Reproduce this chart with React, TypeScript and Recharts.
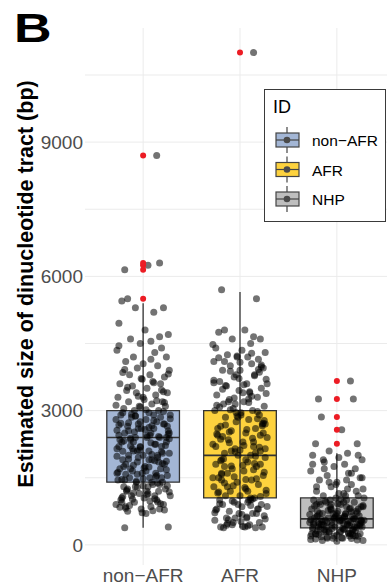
import {
  ComposedChart,
  Scatter,
  XAxis,
  YAxis,
  CartesianGrid,
  ReferenceArea,
  ReferenceLine,
  Legend,
} from "recharts";

const FONT = '"Liberation Sans", Arial, Helvetica, sans-serif';

// groups and their box statistics (bp)
const groups = ["non−AFR", "AFR", "NHP"];
const boxFill = ["#a3b6d5", "#fdd23e", "#bebebe"];
const q1 = [1400, 1050, 380];
const median = [2400, 2000, 580];
const q3 = [3000, 3000, 1050];
const whiskerLow = [380, 380, 70];
const whiskerHigh = [5400, 5650, 2050];

// outliers flagged by the boxplot (drawn on the centre line in red)
const nonAfrOutliers = [5500, 6150, 6250, 6300, 8700];
const afrOutliers = [11000];
const nhpOutliers = [2260, 2570, 2860, 3260, 3660];

// horizontal jitter, in category units
const jitter = [
  0.14, -0.19, 0.17, -0.16, 0.05, -0.22, 0.21, -0.08, 0.11, -0.25, 0.02, 0.26, -0.13, 0.08, -0.03, 0.19,
  -0.27, 0.12, -0.1, 0.24, -0.18, 0.0, 0.15, -0.06, 0.27, -0.21, 0.07, -0.14, 0.22, -0.01, 0.1, -0.24,
  0.18, -0.11, 0.04, -0.17, 0.25, -0.07, 0.13, -0.26, 0.01, 0.2, -0.15, 0.09, -0.04, 0.23, -0.2, 0.16,
  -0.09, 0.06, -0.23, 0.28, -0.12, 0.03, -0.28, 0.14, -0.05, 0.21, -0.16, 0.11, -0.02, 0.26, -0.19, 0.08,
  -0.25, 0.17, -0.08, 0.04, -0.13, 0.24, -0.22, 0.12, -0.03, 0.19, -0.27, 0.06, -0.1, 0.27, -0.15, 0.0,
  0.15, -0.21, 0.09, -0.06, 0.22, -0.18, 0.02, -0.24, 0.18, -0.11, 0.13, -0.01, 0.25, -0.14, 0.07, -0.26,
  0.2, -0.07, 0.1, -0.2, 0.05, 0.23, -0.17, 0.16, -0.04, 0.28, -0.12, 0.01, -0.23, 0.14, -0.09, 0.21,
  -0.28, 0.08, -0.02, 0.17, -0.16, 0.03, 0.26, -0.19, 0.11, -0.05, 0.24, -0.25, 0.06, -0.13, 0.19, -0.08,
  0.12, -0.22, 0.0, 0.22, -0.1, 0.15, -0.27, 0.04, -0.18, 0.27, -0.06, 0.09, -0.21, 0.18, -0.03, 0.25,
  -0.15, 0.07, -0.24, 0.13, -0.11, 0.2, -0.05, 0.16, -0.2, 0.03,
];

// estimated tract sizes (bp), one entry per sample
const nonAfrTract = [
  8700, 6150, 6300, 5500, 6250, 5450, 5300, 5300, 5200, 4950, 4800, 4700, 4600, 4550, 4500, 4400,
  4350, 4300, 4200, 4200, 4100, 4050, 4000, 3950, 3900, 3850, 3800, 3800, 3750, 3700, 3650, 3600,
  3600, 3550, 3500, 3450, 3400, 3400, 3350, 3300, 3250, 3200, 3200, 3150, 3100, 3100, 3050, 3000,
  3000, 2950, 2900, 2900, 2850, 2800, 2800, 2750, 2700, 2700, 2650, 2600, 2600, 2550, 2500, 2500,
  2450, 2400, 2400, 2400, 2350, 2300, 2300, 2250, 2200, 2200, 2150, 2100, 2100, 2050, 2000, 2000,
  1950, 1900, 1900, 1850, 1800, 1800, 1750, 1700, 1700, 1650, 1600, 1600, 1550, 1500, 1500, 1450,
  1400, 1400, 1350, 1300, 1300, 1250, 1200, 1200, 1150, 1100, 1100, 1050, 1000, 1000, 950, 900,
  900, 850, 800, 800, 750, 700, 400, 380, 2900, 2600, 2400, 2200, 1900, 1700, 1500, 1300,
  1100, 950, 3300, 2700, 2300, 2000, 1600, 1200, 850, 2500, 2100, 1400, 2950, 2850, 2750, 2650,
  2550, 2450, 2350, 2250, 2150, 2050, 1950, 1850, 1750, 1650, 1550, 1450, 1350, 1250, 1150, 1050,
  2980, 2880, 2780, 2680, 2580, 2480, 2380, 2280, 2180, 2080, 1980, 1880, 1780, 1680, 1580, 1480,
  1380, 1280, 1180, 1080, 980, 880, 780, 720, 760, 840, 920, 1020, 1120, 1220, 1320, 1420,
  1520, 1620, 1720, 1820, 1920, 2020, 2120, 2220, 2320, 2420, 2520, 2620, 2720, 2820, 2920, 3020,
  3120, 3220, 3320, 3420, 3520, 3620, 3720, 3820, 3920, 4150, 4450, 4650, 2880, 2440, 2210, 1870,
  1460, 1030, 3080, 3460, 2560, 1740, 1160, 2370, 2730, 1320, 960, 2090, 2660, 1580, 3180, 820,
];

const afrTract = [
  11000, 5700, 5500, 4800, 4800, 4750, 4600, 4600, 4500, 4400, 4350, 4300, 4250, 4200, 4200, 4150,
  4100, 4050, 4000, 3950, 3900, 3900, 3800, 3750, 3700, 3650, 3600, 3550, 3500, 3450, 3400, 3350,
  3300, 3250, 3200, 3150, 3100, 3050, 3000, 3000, 2950, 2900, 2850, 2800, 2750, 2700, 2650, 2600,
  2550, 2500, 2450, 2400, 2350, 2300, 2250, 2200, 2150, 2100, 2050, 2000, 2000, 1950, 1900, 1850,
  1800, 1750, 1700, 1650, 1600, 1550, 1500, 1450, 1400, 1350, 1300, 1250, 1200, 1150, 1100, 1100,
  1050, 1000, 1000, 950, 900, 900, 850, 800, 800, 750, 700, 700, 650, 600, 600, 550,
  500, 500, 450, 400, 400, 400, 380, 380, 3800, 3600, 3200, 2900, 2600, 2300, 2100, 1800,
  1500, 1200, 900, 700, 4100, 3400, 2700, 1600, 1000, 600, 2500, 2200, 1900, 1300, 800, 450,
  4280, 4180, 4080, 3980, 3880, 3780, 3680, 3580, 3480, 3380, 3280, 3180, 3080, 2980, 2880, 2780,
  2680, 2580, 2480, 2380, 2280, 2180, 2080, 1980, 1880, 1780, 1680, 1580, 1480, 1380, 1280, 1180,
  1080, 980, 880, 780, 680, 580, 480, 420, 4220, 3920, 3620, 3320, 3020, 2720, 2420, 2120,
  1820, 1520, 1220, 920, 620, 440, 4020, 3720, 3420, 3120, 2820, 2520, 2220, 1920, 1620, 1320,
  1020, 720, 520, 3860, 3560, 3260, 2960, 2660, 2360, 2060, 1760, 1460, 1160, 860, 560, 410,
  4480, 4650, 3150, 2450, 1750, 1050, 2850, 2150, 1450, 950,
];

const nhpTract = [
  3660, 3260, 3260, 2860, 2570, 2260, 2260, 2100, 2050, 2000, 1950, 1900, 1850, 1800, 1750, 1700,
  1650, 1600, 1550, 1500, 1450, 1400, 1350, 1300, 1250, 1200, 1150, 1100, 1100, 1050, 1000, 1000,
  950, 950, 900, 900, 850, 850, 800, 800, 750, 750, 700, 700, 700, 650, 650, 650,
  600, 600, 600, 550, 550, 550, 500, 500, 500, 450, 450, 450, 400, 400, 400, 350,
  350, 350, 300, 300, 300, 250, 250, 250, 200, 200, 200, 150, 150, 100, 100, 80,
  1600, 1300, 1100, 900, 800, 700, 600, 500, 400, 300, 200, 650, 550, 450, 350, 250,
  1200, 1000, 850, 750, 550, 450, 350, 250, 150, 1050, 980, 920, 870, 820, 770, 720,
  680, 640, 610, 580, 560, 530, 510, 490, 470, 440, 420, 390, 370, 340, 320, 290,
  270, 240, 220, 190, 170, 140, 120, 1020, 960, 880, 780, 690, 630, 590, 570, 540,
  520, 480, 460, 430, 410, 380, 360, 330, 310, 280, 260, 230, 210, 180, 160, 130,
  110, 1400, 1250, 1800, 1150, 1500, 1700, 620, 600, 580, 560, 540, 500, 480, 460, 700,
  740, 800, 850, 900, 950, 1900, 2000, 1350, 1450,
];

const yTicks = [0, 3000, 6000, 9000];
const yGrid = [0, 1500, 3000, 4500, 6000, 7500, 9000, 10500];

const tractByGroup = [nonAfrTract, afrTract, nhpTract];
const outliersByGroup = [nonAfrOutliers, afrOutliers, nhpOutliers];

const samplePoints = tractByGroup.flatMap((vals, g) =>
  vals.map((v, i) => ({ x: g + 1 + jitter[i % jitter.length], y: v }))
);
const outlierPoints = outliersByGroup.flatMap((vals, g) => vals.map((v) => ({ x: g + 1, y: v })));

const HALF_BOX = 0.375;
const EDGE = "#333333";

const SampleDot = (props: any) => (
  <circle cx={props.cx} cy={props.cy} r={3.5} fill="#000" fillOpacity={0.55} />
);
const OutlierDot = (props: any) => <circle cx={props.cx} cy={props.cy} r={3} fill="#ec1c24" />;

const YTitle = () => (
  <text
    x={33}
    y={284}
    transform="rotate(-90 33 284)"
    textAnchor="middle"
    fontFamily={FONT}
    fontWeight="bold"
    fontSize={21.5}
    fill="#000"
  >
    Estimated size of dinucleotide tract (bp)
  </text>
);

const LegendBox = () => (
  <svg width={123} height={134} style={{ display: "block" }}>
    <rect x={0.5} y={0.5} width={121} height={132} fill="#fff" stroke="#3a3a3a" strokeWidth={1} />
    <text x={9} y={24} fontFamily={FONT} fontSize={18} fill="#000">
      ID
    </text>
    {groups.map((name, i) => {
      const cy = 51 + i * 29.5;
      return (
        <g key={name}>
          <line x1={23} x2={23} y1={cy - 13} y2={cy + 13} stroke="#444" strokeWidth={1.2} />
          <rect x={12} y={cy - 7} width={23} height={14} fill={boxFill[i]} stroke="#444" strokeWidth={1.2} />
          <line x1={12} x2={35} y1={cy} y2={cy} stroke="#444" strokeWidth={1.2} />
          <circle cx={23} cy={cy} r={3.3} fill="#4a4a4a" />
          <text x={48} y={cy + 6} fontFamily={FONT} fontSize={15.5} fill="#000">
            {name}
          </text>
        </g>
      );
    })}
  </svg>
);

export default function App() {
  return (
    <div
      style={{
        position: "absolute",
        left: 0,
        top: 0,
        width: 387,
        height: 586,
        overflow: "hidden",
        background: "#fff",
      }}
    >
      <div
        style={{
          position: "absolute",
          left: 14,
          top: 4,
          fontFamily: FONT,
          fontWeight: "bold",
          fontSize: 40,
          transform: "scaleX(1.3)",
          transformOrigin: "left top",
          lineHeight: 1.2,
        }}
      >
        B
      </div>
      <ComposedChart width={400} height={586} margin={{ top: 28, right: 5, bottom: 0, left: 0 }}>
        <CartesianGrid horizontalValues={yGrid} verticalValues={[1, 2, 3]} stroke="#ebebeb" strokeWidth={1} />
        <XAxis
          type="number"
          dataKey="x"
          domain={[0.4, 3.6]}
          allowDataOverflow
          ticks={[1, 2, 3]}
          tickFormatter={(v: number) => groups[v - 1]}
          axisLine={false}
          tickLine={false}
          tickSize={0}
          tickMargin={4}
          height={21}
          tick={{ fontFamily: FONT, fontSize: 19, fill: "#4d4d4d" }}
        />
        <YAxis
          type="number"
          dataKey="y"
          domain={[-450, 11550]}
          allowDataOverflow
          ticks={yTicks}
          axisLine={false}
          tickLine={false}
          tickSize={0}
          tickMargin={2}
          width={85}
          tick={{ fontFamily: FONT, fontSize: 19, fill: "#4d4d4d" }}
          label={<YTitle />}
        />
        {groups.map((g, i) => (
          <ReferenceArea
            key={`box-${g}`}
            x1={i + 1 - HALF_BOX}
            x2={i + 1 + HALF_BOX}
            y1={q1[i]}
            y2={q3[i]}
            fill={boxFill[i]}
            fillOpacity={1}
            stroke={EDGE}
            strokeWidth={1.3}
          />
        ))}
        {groups.map((g, i) => (
          <ReferenceLine
            key={`whisker-${g}`}
            segment={[
              { x: i + 1, y: whiskerLow[i] },
              { x: i + 1, y: whiskerHigh[i] },
            ]}
            stroke={EDGE}
            strokeWidth={1.3}
          />
        ))}
        {groups.map((g, i) => (
          <ReferenceLine
            key={`median-${g}`}
            segment={[
              { x: i + 1 - HALF_BOX, y: median[i] },
              { x: i + 1 + HALF_BOX, y: median[i] },
            ]}
            stroke={EDGE}
            strokeWidth={1.6}
          />
        ))}
        <Scatter data={samplePoints} shape={SampleDot} isAnimationActive={false} />
        <Scatter data={outlierPoints} shape={OutlierDot} isAnimationActive={false} />
        <Legend
          layout="vertical"
          align="center"
          verticalAlign="middle"
          content={() => <LegendBox />}
          wrapperStyle={{ left: 264, top: 89, width: 123, height: 134 }}
        />
      </ComposedChart>
    </div>
  );
}
